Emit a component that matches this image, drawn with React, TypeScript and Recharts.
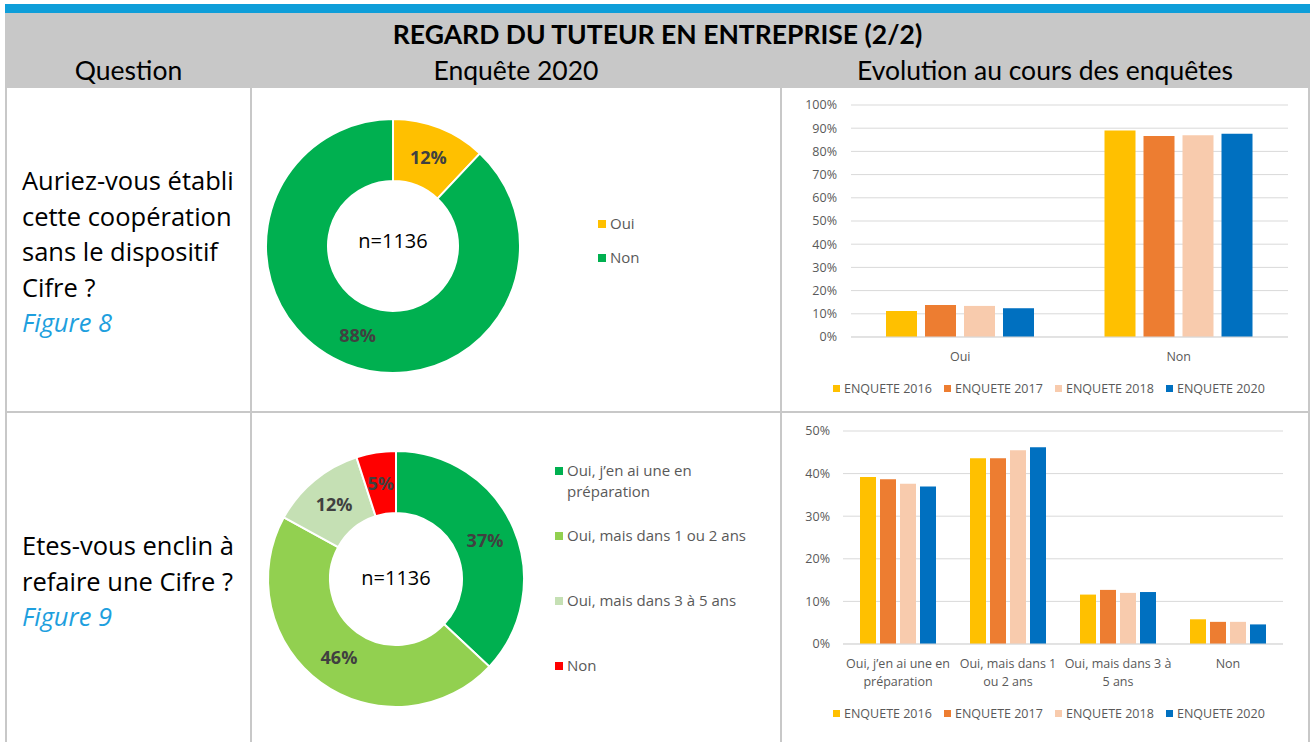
import { Bar, BarChart, CartesianGrid, Cell, Legend, Pie, PieChart, XAxis, YAxis } from "recharts";

const font = "'Open Sans', sans-serif";
const headFont = "Lato, sans-serif";
const axisText = "#595959";
const gridLine = "#D9D9D9";
const border = "#C8C8C8";

// surveys shown in the evolution charts
const years = ["ENQUETE 2016", "ENQUETE 2017", "ENQUETE 2018", "ENQUETE 2020"];
const yearKeys = ["y2016", "y2017", "y2018", "y2020"];
const yearColors = ["#FFC000", "#ED7D31", "#F8CBAD", "#0070C0"];

// Figure 8 - cooperation sans Cifre
const coopLabels = ["Oui", "Non"];
const coopShare2020 = [12, 88];
const coopColors = ["#FFC000", "#00B050"];
const coop2016 = [11.2, 89.0];
const coop2017 = [13.8, 86.6];
const coop2018 = [13.4, 87.0];
const coop2020 = [12.4, 87.6];
const coopTicks = [0, 10, 20, 30, 40, 50, 60, 70, 80, 90, 100];

// Figure 9 - refaire une Cifre
const againLabels = [
  "Oui, j’en ai une en préparation",
  "Oui, mais dans 1 ou 2 ans",
  "Oui, mais dans 3 à 5 ans",
  "Non",
];
const againAxisLabels = [
  ["Oui, j’en ai une en", "préparation"],
  ["Oui, mais dans 1", "ou 2 ans"],
  ["Oui, mais dans 3 à", "5 ans"],
  ["Non"],
];
const againShare2020 = [37, 46, 12, 5];
const againColors = ["#00B050", "#92D050", "#C5E0B4", "#FF0000"];
const again2016 = [39.2, 43.6, 11.6, 5.8];
const again2017 = [38.7, 43.6, 12.7, 5.2];
const again2018 = [37.6, 45.5, 12.0, 5.2];
const again2020 = [37.0, 46.2, 12.2, 4.6];
const againTicks = [0, 10, 20, 30, 40, 50];

const sampleSize = "n=1136";

const coopRows = coopLabels.map((name, i) => ({
  name,
  y2016: coop2016[i],
  y2017: coop2017[i],
  y2018: coop2018[i],
  y2020: coop2020[i],
}));
const againRows = againLabels.map((name, i) => ({
  name,
  y2016: again2016[i],
  y2017: again2017[i],
  y2018: again2018[i],
  y2020: again2020[i],
}));
const coopSlices = coopLabels.map((name, i) => ({ name, value: coopShare2020[i] }));
const againSlices = againLabels.map((name, i) => ({ name, value: againShare2020[i] }));

const RAD = Math.PI / 180;

function sliceLabel(p: any) {
  const r = (p.innerRadius + p.outerRadius) / 2;
  const x = p.cx + r * Math.cos(-p.midAngle * RAD);
  const y = p.cy + r * Math.sin(-p.midAngle * RAD);
  return (
    <text
      x={x}
      y={y}
      textAnchor="middle"
      dominantBaseline="central"
      fill="#404040"
      fontSize={18}
      fontWeight={700}
      fontFamily={font}
    >
      {p.value}%
    </text>
  );
}

function CategoryTick({ x, y, payload, lines }: any) {
  const rows: string[] = lines ? lines[payload.index] : [payload.value];
  return (
    <g>
      {rows.map((t, i) => (
        <text
          key={i}
          x={x}
          y={y + 19 + i * 18}
          textAnchor="middle"
          dominantBaseline="central"
          fill={axisText}
          fontSize={12.5}
          fontFamily={font}
        >
          {t}
        </text>
      ))}
    </g>
  );
}

function YearLegend({ payload, step }: any) {
  return (
    <div style={{ display: "flex", height: 20, alignItems: "center", fontFamily: font, fontSize: 12.5, color: axisText }}>
      {(payload || []).map((e: any) => (
        <div key={e.value} style={{ width: step, display: "flex", alignItems: "center", whiteSpace: "nowrap" }}>
          <span style={{ width: 7, height: 7, background: e.color, marginRight: 4, flex: "none" }} />
          {e.value}
        </div>
      ))}
    </div>
  );
}

function SliceLegend({ items, colors, slot, textWidth }: any) {
  return (
    <div style={{ fontFamily: font, fontSize: 15, color: axisText }}>
      {items.map((name: string, i: number) => (
        <div key={name} style={{ height: slot, display: "flex", alignItems: "flex-start" }}>
          <span style={{ width: 8, height: 8, background: colors[i], marginTop: 6.5, marginRight: 4, flex: "none" }} />
          <span style={{ width: textWidth, lineHeight: "21px" }}>{name}</span>
        </div>
      ))}
    </div>
  );
}

function Donut({ data, colors, cx, cy, inner, outer, width, height, legend }: any) {
  return (
    <PieChart width={width} height={height} margin={{ top: 0, right: 0, bottom: 0, left: 0 }}>
      <Pie
        data={data}
        dataKey="value"
        nameKey="name"
        cx={cx}
        cy={cy}
        innerRadius={inner}
        outerRadius={outer}
        startAngle={90}
        endAngle={-270}
        stroke="#FFFFFF"
        strokeWidth={2}
        label={sliceLabel}
        labelLine={false}
        isAnimationActive={false}
      >
        {data.map((_: any, i: number) => (
          <Cell key={i} fill={colors[i]} />
        ))}
      </Pie>
      {legend}
    </PieChart>
  );
}

function Evolution({ data, ticks, max, width, height, margin, yWidth, yGap, xHeight, barSize, barGap, lines }: any) {
  return (
    <BarChart width={width} height={height} data={data} margin={margin} barGap={barGap}>
      <CartesianGrid stroke={gridLine} vertical={false} />
      <XAxis
        dataKey="name"
        height={xHeight}
        axisLine={{ stroke: gridLine }}
        tickLine={false}
        tickSize={0}
        tickMargin={0}
        interval={0}
        tick={(p: any) => <CategoryTick {...p} lines={lines} />}
      />
      <YAxis
        width={yWidth}
        domain={[0, max]}
        ticks={ticks}
        interval={0}
        axisLine={false}
        tickLine={false}
        tickSize={0}
        tickMargin={yGap}
        tickFormatter={(v: number) => `${v}%`}
        tick={{ fill: axisText, fontSize: 12.5, fontFamily: font }}
      />
      {yearKeys.map((k, i) => (
        <Bar key={k} dataKey={k} name={years[i]} fill={yearColors[i]} barSize={barSize} isAnimationActive={false} />
      ))}
      <Legend
        verticalAlign="bottom"
        wrapperStyle={{ left: 51, width: 470 }}
        content={(p: any) => <YearLegend {...p} step={111} />}
      />
    </BarChart>
  );
}

const abs = (left: number, top: number, width: number, height: number, extra: any = {}) => ({
  position: "absolute" as const,
  left,
  top,
  width,
  height,
  ...extra,
});

const questionStyle = {
  fontFamily: font,
  fontSize: 25.5,
  lineHeight: "35.5px",
  color: "#000",
  whiteSpace: "nowrap" as const,
};
const figStyle = { color: "#1E9FDE", fontStyle: "italic" as const };
const subHead = { textAlign: "center" as const, fontFamily: headFont, fontSize: 26.5, lineHeight: "30px", color: "#000" };

export default function App() {
  return (
    <div style={{ position: "absolute", left: 0, top: 0, width: 1314, height: 742, background: "#FFFFFF", overflow: "hidden" }}>
      <div style={abs(5, 4, 1305, 9, { background: "#0E9ED9" })} />
      <div style={abs(5, 13, 1305, 729, { background: border })} />

      <div style={abs(5, 19, 1305, 30, { textAlign: "center", fontFamily: headFont, fontWeight: 700, fontSize: 26.5, lineHeight: "30px", color: "#000" })}>
        REGARD DU TUTEUR EN ENTREPRISE (2/2)
      </div>
      <div style={abs(7, 55, 243, 30, subHead)}>Question</div>
      <div style={abs(252, 55, 528, 30, subHead)}>Enquête 2020</div>
      <div style={abs(782, 55, 526, 30, subHead)}>Evolution au cours des enquêtes</div>

      {/* row 1 */}
      <div style={abs(7, 88, 243, 323, { background: "#FFFFFF" })}>
        <div style={{ position: "absolute", left: 15, top: 75, ...questionStyle }}>
          Auriez-vous établi
          <br />
          cette coopération
          <br />
          sans le dispositif
          <br />
          Cifre ?
          <br />
          <span style={figStyle}>Figure 8</span>
        </div>
      </div>
      <div style={abs(252, 88, 528, 323, { background: "#FFFFFF" })}>
        <Donut
          data={coopSlices}
          colors={coopColors}
          cx={141}
          cy={158}
          inner={65}
          outer={127}
          width={528}
          height={323}
          legend={
            <Legend
              wrapperStyle={{ left: 346, top: 125, width: 180 }}
              content={() => <SliceLegend items={coopLabels} colors={coopColors} slot={34} textWidth={160} />}
            />
          }
        />
        <div style={abs(41, 139, 200, 28, { textAlign: "center", fontFamily: font, fontSize: 20, lineHeight: "28px", color: "#000" })}>
          {sampleSize}
        </div>
      </div>
      <div style={abs(782, 88, 526, 323, { background: "#FFFFFF" })}>
        <Evolution
          data={coopRows}
          ticks={coopTicks}
          max={100}
          width={526}
          height={323}
          margin={{ top: 17, right: 20, bottom: 13, left: 0 }}
          yWidth={69}
          yGap={14}
          xHeight={41}
          barSize={31}
          barGap={8}
        />
      </div>

      {/* row 2 */}
      <div style={abs(7, 413, 243, 329, { background: "#FFFFFF" })}>
        <div style={{ position: "absolute", left: 15, top: 115, ...questionStyle }}>
          Etes-vous enclin à
          <br />
          refaire une Cifre ?
          <br />
          <span style={figStyle}>Figure 9</span>
        </div>
      </div>
      <div style={abs(252, 413, 528, 329, { background: "#FFFFFF" })}>
        <Donut
          data={againSlices}
          colors={againColors}
          cx={144}
          cy={166}
          inner={66}
          outer={128}
          width={528}
          height={329}
          legend={
            <Legend
              wrapperStyle={{ left: 303, top: 47, width: 220 }}
              content={() => <SliceLegend items={againLabels} colors={againColors} slot={65} textWidth={200} />}
            />
          }
        />
        <div style={abs(44, 151, 200, 28, { textAlign: "center", fontFamily: font, fontSize: 20, lineHeight: "28px", color: "#000" })}>
          {sampleSize}
        </div>
      </div>
      <div style={abs(782, 413, 526, 329, { background: "#FFFFFF" })}>
        <Evolution
          data={againRows}
          ticks={againTicks}
          max={50}
          width={526}
          height={329}
          margin={{ top: 18, right: 25, bottom: 19, left: 0 }}
          yWidth={61}
          yGap={13}
          xHeight={59}
          barSize={16}
          barGap={4}
          lines={againAxisLabels}
        />
      </div>
    </div>
  );
}
